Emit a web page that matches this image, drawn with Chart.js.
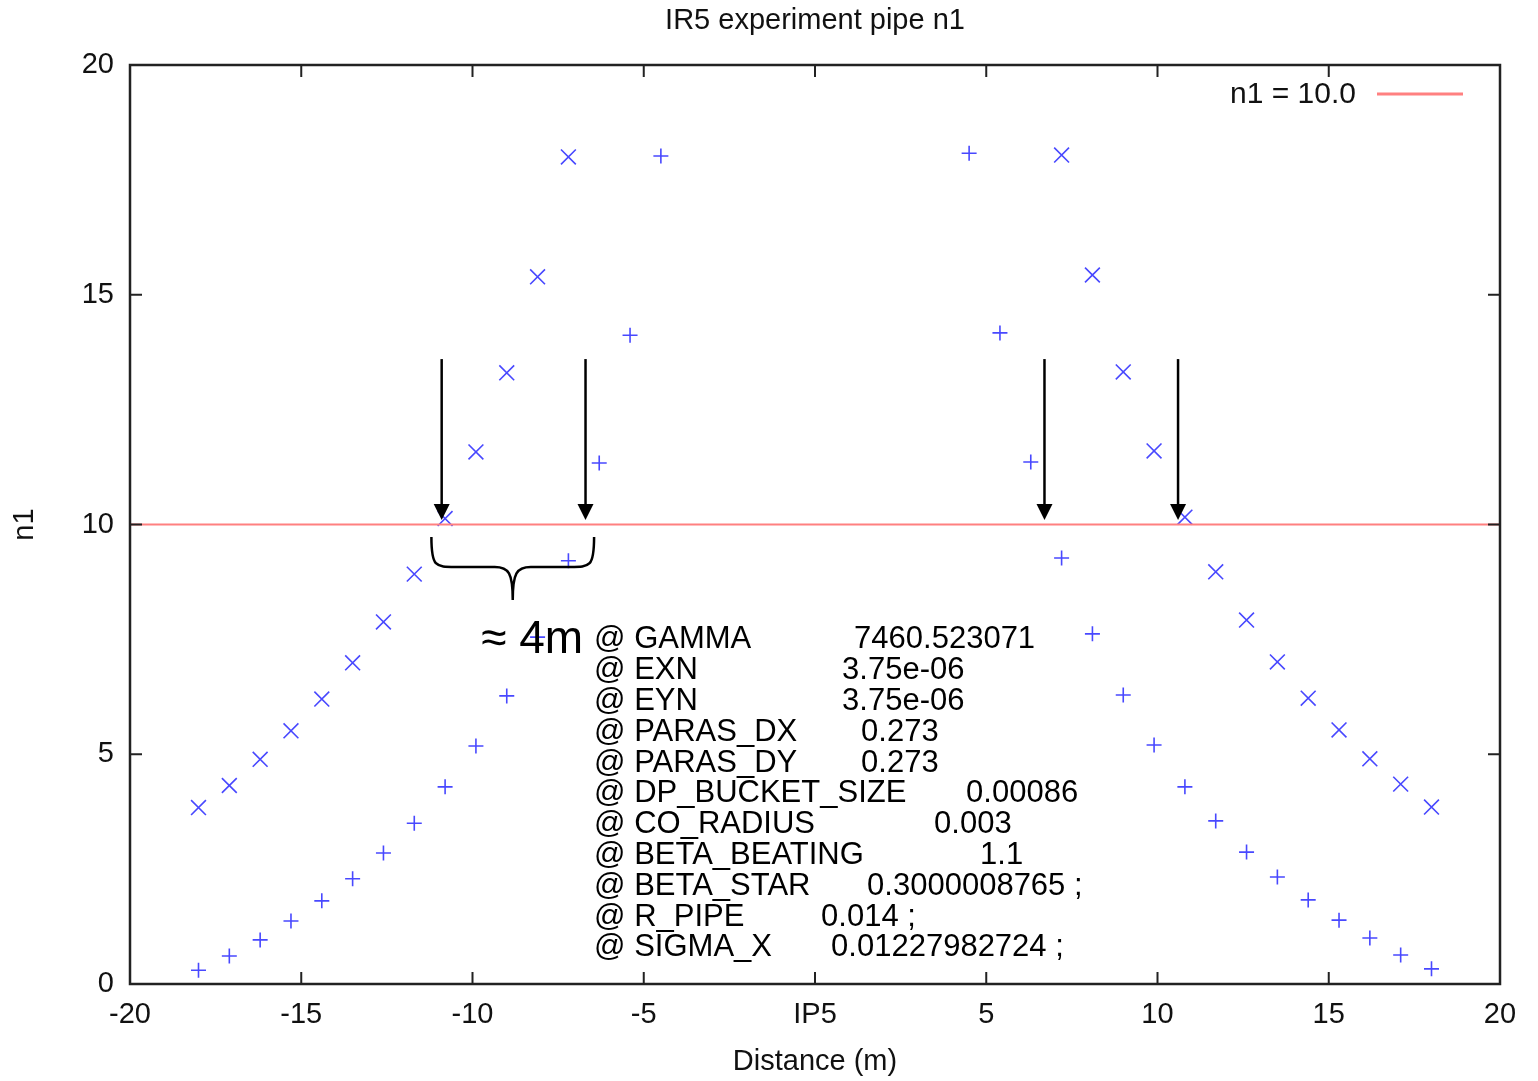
<!DOCTYPE html>
<html lang="en">
<head>
  <meta charset="UTF-8" />
  <title>IR5 experiment pipe n1</title>
  <script src="https://cdn.jsdelivr.net/npm/chart.js"></script>
  <style>
    body { margin: 0; background: #fff; }
    canvas { display: block; }
  </style>
</head>
<body>
  <canvas id="n1Chart" width="1538" height="1081"></canvas>

  <script>
    // aperture n1 along the IR5 experiment pipe, two planes
    const sPlus = [-18.0, -17.1, -16.2, -15.3, -14.4, -13.5, -12.6, -11.7, -10.8, -9.9, -9.0, -8.1, -7.2, -6.3, -5.4, -4.5,
                   4.5, 5.4, 6.3, 7.2, 8.1, 9.0, 9.9, 10.8, 11.7, 12.6, 13.5, 14.4, 15.3, 16.2, 17.1, 18.0];
    const n1Plus = [0.30, 0.61, 0.96, 1.37, 1.81, 2.29, 2.85, 3.50, 4.29, 5.18, 6.27, 7.55, 9.21, 11.34, 14.12, 18.02,
                    18.08, 14.17, 11.36, 9.27, 7.62, 6.29, 5.20, 4.29, 3.55, 2.87, 2.33, 1.83, 1.39, 1.00, 0.63, 0.33];
    const sCross = [-18.0, -17.1, -16.2, -15.3, -14.4, -13.5, -12.6, -11.7, -10.8, -9.9, -9.0, -8.1, -7.2,
                    7.2, 8.1, 9.0, 9.9, 10.8, 11.7, 12.6, 13.5, 14.4, 15.3, 16.2, 17.1, 18.0];
    const n1Cross = [3.84, 4.32, 4.89, 5.51, 6.20, 6.99, 7.88, 8.92, 10.13, 11.58, 13.30, 15.39, 18.00,
                     18.04, 15.43, 13.32, 11.60, 10.16, 8.97, 7.92, 7.01, 6.22, 5.53, 4.90, 4.35, 3.85];
    const n1Limit = 10.0;

    const xTicks = [-20, -15, -10, -5, 0, 5, 10, 15, 20];
    const xTickLabels = ['-20', '-15', '-10', '-5', 'IP5', '5', '10', '15', '20'];
    const yTicks = [0, 5, 10, 15, 20];

    // where n1 crosses the limit, and the ~4 m gap between them
    const arrowS = [-10.9, -6.7, 6.7, 10.6];
    const arrowFrom = 13.6, arrowTo = 10.1;
    const braceS = [-11.2, -6.45];
    const braceTop = 9.73;
    const gapLabel = '\u2248 4m';

    // header of the twiss file used for the aperture
    const paramNames = ['GAMMA', 'EXN', 'EYN', 'PARAS_DX', 'PARAS_DY', 'DP_BUCKET_SIZE', 'CO_RADIUS',
                        'BETA_BEATING', 'BETA_STAR', 'R_PIPE', 'SIGMA_X'];
    const paramValues = ['7460.523071', '3.75e-06', '3.75e-06', '0.273', '0.273', '0.00086', '0.003',
                         '1.1', '0.3000008765 ;', '0.014 ;', '0.01227982724 ;'];
    const paramValueX = [260, 248, 248, 267, 267, 372, 340, 386, 273, 227, 237]; // tab stops, px from '@'

    const FONT = "'Liberation Sans', Arial, sans-serif";
    const BLUE = '#4848ff';
    const RED = '#ff8080';

    const pts = (xs, ys) => xs.map((x, i) => ({ x: x, y: ys[i] }));

    const decorations = {
      id: 'decorations',
      afterDatasetsDraw(chart) {
        const { ctx, chartArea: a, scales: { x, y } } = chart;
        ctx.save();

        // frame with inward ticks on all four sides
        ctx.strokeStyle = '#222';
        ctx.lineWidth = 2.5;
        ctx.strokeRect(a.left, a.top, a.right - a.left, a.bottom - a.top);
        ctx.lineWidth = 2;
        ctx.beginPath();
        xTicks.forEach(v => {
          const px = x.getPixelForValue(v);
          ctx.moveTo(px, a.bottom); ctx.lineTo(px, a.bottom - 12);
          ctx.moveTo(px, a.top); ctx.lineTo(px, a.top + 12);
        });
        yTicks.forEach(v => {
          const py = y.getPixelForValue(v);
          ctx.moveTo(a.left, py); ctx.lineTo(a.left + 12, py);
          ctx.moveTo(a.right, py); ctx.lineTo(a.right - 12, py);
        });
        ctx.stroke();

        // title
        ctx.fillStyle = '#111';
        ctx.font = '29px ' + FONT;
        ctx.textAlign = 'center';
        ctx.textBaseline = 'middle';
        ctx.fillText('IR5 experiment pipe n1', (a.left + a.right) / 2, 21);

        // key
        ctx.font = '30px ' + FONT;
        ctx.textAlign = 'right';
        ctx.fillText('n1 = 10.0', a.right - 144, a.top + 30);
        ctx.strokeStyle = RED;
        ctx.lineWidth = 3;
        ctx.beginPath();
        ctx.moveTo(a.right - 123, a.top + 29);
        ctx.lineTo(a.right - 37, a.top + 29);
        ctx.stroke();

        // arrows onto the limit line
        ctx.strokeStyle = '#000';
        ctx.fillStyle = '#000';
        ctx.lineWidth = 2.5;
        arrowS.forEach(s => {
          const px = x.getPixelForValue(s);
          const y0 = y.getPixelForValue(arrowFrom);
          const y1 = y.getPixelForValue(arrowTo);
          ctx.beginPath();
          ctx.moveTo(px, y0); ctx.lineTo(px, y1 - 14);
          ctx.stroke();
          ctx.beginPath();
          ctx.moveTo(px - 8, y1 - 16);
          ctx.lineTo(px + 8, y1 - 16);
          ctx.lineTo(px, y1);
          ctx.closePath();
          ctx.fill();
        });

        // curly brace under the gap
        const bl = x.getPixelForValue(braceS[0]);
        const br = x.getPixelForValue(braceS[1]);
        const bt = y.getPixelForValue(braceTop);
        const bm = (bl + br) / 2;
        const bh = bt + 30;
        ctx.lineWidth = 2.5;
        ctx.beginPath();
        ctx.moveTo(bl, bt);
        ctx.bezierCurveTo(bl, bh, bl + 4, bh, bl + 24, bh);
        ctx.lineTo(bm - 18, bh);
        ctx.bezierCurveTo(bm - 4, bh, bm, bh + 6, bm, bh + 33);
        ctx.bezierCurveTo(bm, bh + 6, bm + 4, bh, bm + 18, bh);
        ctx.lineTo(br - 24, bh);
        ctx.bezierCurveTo(br - 4, bh, br, bh, br, bt);
        ctx.stroke();

        ctx.font = '46px ' + FONT;
        ctx.textAlign = 'right';
        ctx.textBaseline = 'middle';
        const textLeft = br;
        const firstLine = bh + 73;
        ctx.fillText(gapLabel, textLeft - 11, firstLine);

        // parameter block
        ctx.font = '31px ' + FONT;
        ctx.textAlign = 'left';
        paramNames.forEach((name, i) => {
          const py = firstLine + i * 30.8;
          ctx.fillText('@ ' + name, textLeft, py);
          ctx.fillText(paramValues[i], textLeft + paramValueX[i], py);
        });

        ctx.restore();
      }
    };

    const ctx = document.getElementById('n1Chart').getContext('2d');
    new Chart(ctx, {
      type: 'scatter',
      data: {
        datasets: [
          {
            label: 'n1 = 10.0',
            type: 'line',
            data: [{ x: -20, y: n1Limit }, { x: 20, y: n1Limit }],
            borderColor: RED,
            borderWidth: 2,
            pointRadius: 0,
            fill: false
          },
          {
            label: 'n1 plus',
            data: pts(sPlus, n1Plus),
            pointStyle: 'cross',
            pointRadius: 7.5,
            borderColor: BLUE,
            backgroundColor: BLUE,
            pointBorderWidth: 1.6
          },
          {
            label: 'n1 cross',
            data: pts(sCross, n1Cross),
            pointStyle: 'crossRot',
            pointRadius: 10.5,
            borderColor: BLUE,
            backgroundColor: BLUE,
            pointBorderWidth: 1.6
          }
        ]
      },
      options: {
        responsive: false,
        animation: false,
        layout: { padding: { top: 65, right: 38, left: 0, bottom: 0 } },
        plugins: {
          legend: { display: false },
          tooltip: { enabled: false }
        },
        scales: {
          x: {
            type: 'linear',
            min: -20,
            max: 20,
            afterBuildTicks: s => { s.ticks = xTicks.map(v => ({ value: v })); },
            afterFit: s => { s.height = 97; },
            ticks: {
              callback: v => xTickLabels[xTicks.indexOf(v)],
              font: { family: FONT, size: 29 },
              color: '#111',
              padding: 14,
              maxRotation: 0
            },
            grid: { drawOnChartArea: false, drawTicks: false },
            border: { display: false },
            title: {
              display: true,
              text: 'Distance (m)',
              font: { family: FONT, size: 29 },
              color: '#111',
              padding: { top: 0, bottom: 2 }
            }
          },
          y: {
            min: 0,
            max: 20,
            afterBuildTicks: s => { s.ticks = yTicks.map(v => ({ value: v })); },
            afterFit: s => { s.width = 130; },
            ticks: {
              font: { family: FONT, size: 29 },
              color: '#111',
              padding: 16
            },
            grid: { drawOnChartArea: false, drawTicks: false },
            border: { display: false },
            title: {
              display: true,
              text: 'n1',
              font: { family: FONT, size: 29 },
              color: '#111',
              padding: { top: 8, bottom: 0 }
            }
          }
        }
      },
      plugins: [decorations]
    });
  </script>
</body>
</html>
